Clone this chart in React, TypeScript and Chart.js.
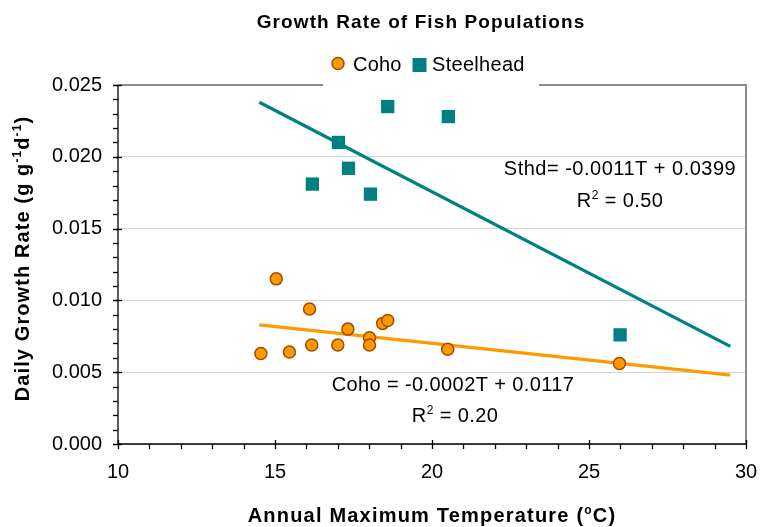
import React, { useEffect, useRef } from 'react';
import { Chart, registerables } from 'chart.js';

Chart.register(...registerables);

// ---- data ----
const cohoTemp = [14.55, 15.46, 15.04, 16.1, 16.17, 17.0, 17.32, 18.01, 18.01, 18.43, 18.59, 20.5, 25.97];
const cohoRate = [0.0063, 0.0064, 0.0115, 0.0094, 0.0069, 0.0069, 0.008, 0.0074, 0.0069, 0.0084, 0.0086, 0.0066, 0.0056];

const sthdTemp = [16.19, 17.02, 17.34, 18.04, 18.59, 20.52, 25.99];
const sthdRate = [0.0181, 0.021, 0.0192, 0.0174, 0.0235, 0.0228, 0.0076];

// trend line end points (as drawn in the reference)
const trendTemp = [14.5, 29.5];
const cohoTrend = [0.0083, 0.0048];
const sthdTrend = [0.0238, 0.0068];

const xMin = 10;
const xMax = 30;
const xMajor = 5;
const xMinor = 1;
const yMin = 0;
const yMax = 0.025;
const yMajor = 0.005;
const yMinor = 0.001;

const titleText = 'Growth Rate of Fish Populations';
const legendLabels = ['Coho', 'Steelhead'];
const sthdEquation = 'Sthd= -0.0011T + 0.0399';
const sthdR2 = '0.50';
const cohoEquation = 'Coho = -0.0002T + 0.0117';
const cohoR2 = '0.20';

const FONT = '"Liberation Sans", Arial, Helvetica, sans-serif';
const ORANGE = '#FF9900';
const ORANGE_EDGE = '#A34A00';
const TEAL = '#008080';

type Seg = { t: string; sup?: boolean };

function drawRich(
  ctx: CanvasRenderingContext2D,
  segs: Seg[],
  x: number,
  y: number,
  size: number,
  weight: string,
  spacing: number,
  align: 'left' | 'center' | 'right'
) {
  const widths = segs.map((s) => {
    ctx.font = `${weight} ${s.sup ? Math.round(size * 0.62) : size}px ${FONT}`;
    (ctx as any).letterSpacing = `${spacing}px`;
    return ctx.measureText(s.t).width;
  });
  const total = widths.reduce((a, b) => a + b, 0);
  let cx = align === 'center' ? x - total / 2 : align === 'right' ? x - total : x;
  ctx.textAlign = 'left';
  ctx.textBaseline = 'alphabetic';
  segs.forEach((s, i) => {
    ctx.font = `${weight} ${s.sup ? Math.round(size * 0.62) : size}px ${FONT}`;
    (ctx as any).letterSpacing = `${spacing}px`;
    ctx.fillText(s.t, cx, s.sup ? y - size * 0.4 : y);
    cx += widths[i];
  });
  (ctx as any).letterSpacing = '0px';
}

function line(ctx: CanvasRenderingContext2D, x1: number, y1: number, x2: number, y2: number) {
  ctx.beginPath();
  ctx.moveTo(x1, y1);
  ctx.lineTo(x2, y2);
  ctx.stroke();
}

const framePlugin = {
  id: 'frame',
  beforeDatasetsDraw(chart: any) {
    const ctx: CanvasRenderingContext2D = chart.ctx;
    const { left, right, top, bottom } = chart.chartArea;
    const xs = chart.scales.x;
    const ys = chart.scales.y;
    ctx.save();
    // grey plot border (top & right)
    ctx.strokeStyle = '#8c8c8c';
    ctx.lineWidth = 2;
    line(ctx, left, top, right + 1, top);
    line(ctx, right, top, right, bottom);
    // axes
    ctx.strokeStyle = '#000000';
    ctx.lineWidth = 1.3;
    line(ctx, left, top, left, bottom);
    line(ctx, left, bottom, right, bottom);
    // y ticks
    const ny = Math.round((yMax - yMin) / yMinor);
    const perMajorY = Math.round(yMajor / yMinor);
    for (let i = 0; i <= ny; i++) {
      const y = Math.round(ys.getPixelForValue(yMin + i * yMinor)) + 0.5;
      line(ctx, left - 5, y, left, y);
      if (i % perMajorY === 0) line(ctx, left - 5, y, left + 4, y);
    }
    // x ticks
    const nx = Math.round((xMax - xMin) / xMinor);
    const perMajorX = Math.round(xMajor / xMinor);
    for (let i = 0; i <= nx; i++) {
      const x = Math.round(xs.getPixelForValue(xMin + i * xMinor)) + 0.5;
      if (i % perMajorX === 0) line(ctx, x, bottom - 4, x, bottom + 5);
      else line(ctx, x, bottom, x, bottom + 5);
    }
    ctx.restore();
  },
  afterDraw(chart: any) {
    const ctx: CanvasRenderingContext2D = chart.ctx;
    const { left, right, top, bottom } = chart.chartArea;
    const midX = (left + right) / 2;
    ctx.save();
    ctx.fillStyle = '#000000';

    // title
    drawRich(ctx, [{ t: titleText }], 421, 28, 19, 'bold', 1.1, 'center');

    // legend box (covers the top border)
    ctx.fillStyle = '#ffffff';
    ctx.fillRect(323, 44, 216, 44);
    // coho marker
    ctx.beginPath();
    ctx.arc(338, 63.5, 6, 0, Math.PI * 2);
    ctx.fillStyle = ORANGE;
    ctx.fill();
    ctx.lineWidth = 1.5;
    ctx.strokeStyle = ORANGE_EDGE;
    ctx.stroke();
    ctx.fillStyle = '#000000';
    drawRich(ctx, [{ t: legendLabels[0] }], 353, 71, 20, 'normal', 0.2, 'left');
    // steelhead marker
    ctx.fillStyle = TEAL;
    ctx.fillRect(412.5, 58, 14, 14);
    ctx.fillStyle = '#000000';
    drawRich(ctx, [{ t: legendLabels[1] }], 432, 71, 20, 'normal', 0.3, 'left');

    // equations
    drawRich(ctx, [{ t: sthdEquation }], 620, 175, 20, 'normal', 0.5, 'center');
    drawRich(ctx, [{ t: 'R' }, { t: '2', sup: true }, { t: ' = ' + sthdR2 }], 620, 207, 20, 'normal', 0.4, 'center');
    drawRich(ctx, [{ t: cohoEquation }], 453, 391, 20, 'normal', 0.4, 'center');
    drawRich(ctx, [{ t: 'R' }, { t: '2', sup: true }, { t: ' = ' + cohoR2 }], 455, 422, 20, 'normal', 0.4, 'center');

    // x axis title
    drawRich(
      ctx,
      [{ t: 'Annual Maximum Temperature (' }, { t: 'o', sup: true }, { t: 'C)' }],
      midX,
      522,
      20,
      'bold',
      1.2,
      'center'
    );

    // y axis title
    ctx.save();
    ctx.translate(29, (top + bottom) / 2 - 6);
    ctx.rotate(-Math.PI / 2);
    drawRich(
      ctx,
      [
        { t: 'Daily Growth Rate (g g' },
        { t: '-1', sup: true },
        { t: 'd' },
        { t: '-1', sup: true },
        { t: ')' },
      ],
      0,
      0,
      20,
      'bold',
      1.1,
      'center'
    );
    ctx.restore();

    ctx.restore();
  },
};

export default function App() {
  const canvasRef = useRef<HTMLCanvasElement | null>(null);

  useEffect(() => {
    document.body.style.margin = '0';
    const canvas = canvasRef.current;
    if (!canvas) return;

    const chart = new Chart(canvas, {
      type: 'scatter',
      data: {
        datasets: [
          {
            label: legendLabels[0],
            data: cohoTemp.map((t, i) => ({ x: t, y: cohoRate[i] })),
            pointStyle: 'circle',
            pointRadius: 6,
            pointBackgroundColor: ORANGE,
            pointBorderColor: ORANGE_EDGE,
            pointBorderWidth: 1.5,
            showLine: false,
            order: 1,
          },
          {
            label: legendLabels[1],
            data: sthdTemp.map((t, i) => ({ x: t, y: sthdRate[i] })),
            pointStyle: 'rect',
            pointRadius: 9.4,
            pointBackgroundColor: TEAL,
            pointBorderWidth: 0,
            pointBorderColor: TEAL,
            showLine: false,
            order: 1,
          },
          {
            label: 'Coho trend',
            data: trendTemp.map((t, i) => ({ x: t, y: cohoTrend[i] })),
            showLine: true,
            borderColor: ORANGE,
            borderWidth: 3.2,
            pointRadius: 0,
            fill: false,
            order: 2,
          },
          {
            label: 'Steelhead trend',
            data: trendTemp.map((t, i) => ({ x: t, y: sthdTrend[i] })),
            showLine: true,
            borderColor: TEAL,
            borderWidth: 3.2,
            pointRadius: 0,
            fill: false,
            order: 2,
          },
        ],
      },
      options: {
        animation: false,
        responsive: false,
        devicePixelRatio: 1,
        layout: { padding: { left: 0, right: 14, top: 85, bottom: 0 } },
        plugins: {
          legend: { display: false },
          title: { display: false },
          tooltip: { enabled: false },
        },
        scales: {
          x: {
            type: 'linear',
            min: xMin,
            max: xMax,
            border: { display: false },
            grid: { display: false, drawTicks: false },
            ticks: {
              stepSize: xMajor,
              padding: 16,
              color: '#000000',
              font: { family: FONT, size: 20 },
              maxRotation: 0,
            },
            afterFit: (scale: any) => {
              scale.height = 83;
              scale.paddingLeft = 0;
              scale.paddingRight = 0;
            },
          },
          y: {
            type: 'linear',
            min: yMin,
            max: yMax,
            border: { display: false },
            grid: { color: '#d4d4d4', lineWidth: 1, drawTicks: false },
            ticks: {
              stepSize: yMajor,
              padding: 16,
              color: '#000000',
              font: { family: FONT, size: 20 },
              callback: (v: any) => Number(v).toFixed(3),
            },
            afterFit: (scale: any) => {
              scale.width = 118;
              scale.paddingTop = 0;
              scale.paddingBottom = 0;
            },
          },
        },
      },
      plugins: [framePlugin],
    });

    return () => {
      chart.destroy();
    };
  }, []);

  return (
    <div style={{ width: 760, height: 527, background: '#ffffff' }}>
      <canvas ref={canvasRef} width={760} height={527} style={{ display: 'block' }} />
    </div>
  );
}
